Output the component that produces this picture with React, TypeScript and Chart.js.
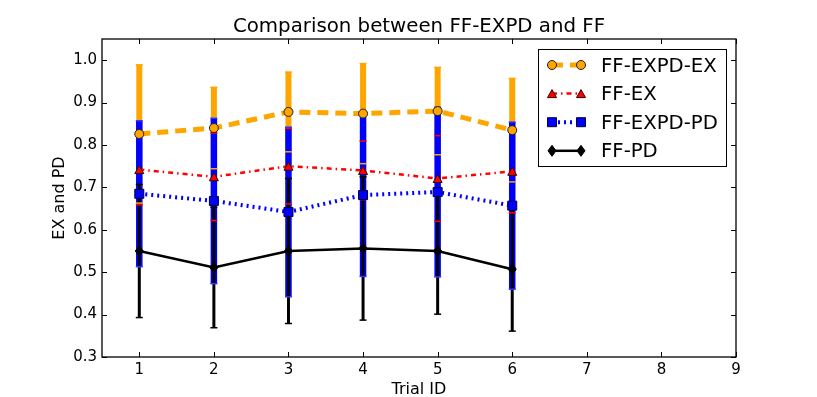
import React, { useEffect, useRef } from "react";
import { Chart, registerables } from "chart.js";

Chart.register(...registerables);

// ---------------- data ----------------
const trialIds = [1, 2, 3, 4, 5, 6];
const xTickValues = [1, 2, 3, 4, 5, 6, 7, 8, 9];
const yTickValues = [0.3, 0.4, 0.5, 0.6, 0.7, 0.8, 0.9, 1.0];
const seriesLabels = ["FF-EXPD-EX", "FF-EX", "FF-EXPD-PD", "FF-PD"];

const expdExMean = [0.826, 0.84, 0.878, 0.874, 0.88, 0.835];
const expdExErr = [0.163, 0.096, 0.094, 0.118, 0.103, 0.122];
const ffExMean = [0.742, 0.725, 0.75, 0.74, 0.721, 0.738];
const ffExErr = [0.083, 0.103, 0.089, 0.069, 0.101, 0.098];
const expdPdMean = [0.685, 0.668, 0.642, 0.682, 0.689, 0.657];
const expdPdErr = [0.172, 0.195, 0.2, 0.192, 0.2, 0.197];
const ffPdMean = [0.55, 0.511, 0.55, 0.556, 0.55, 0.507];
const ffPdErr = [0.157, 0.142, 0.171, 0.169, 0.149, 0.146];

const titleText = "Comparison between FF-EXPD and FF";
const xAxisLabel = "Trial ID";
const yAxisLabel = "EX and PD";

const seriesMeans = [expdExMean, ffExMean, expdPdMean, ffPdMean];
const seriesErrs = [expdExErr, ffExErr, expdPdErr, ffPdErr];

// ---------------- styles ----------------
const FONT = "'DejaVu Sans', 'Bitstream Vera Sans', sans-serif";

type SeriesStyle = {
  color: string;
  lineWidth: number;
  dash: number[];
  barWidth: number;
  capColor: string;
  marker: string;
  mw: number;
  mh: number;
  mfill: string;
  mstroke: string;
};

const styles: SeriesStyle[] = [
  { color: "#FFA500", lineWidth: 5, dash: [11, 7], barWidth: 6, capColor: "#FFA500", marker: "circle", mw: 9, mh: 9, mfill: "#FFA500", mstroke: "#222" },
  { color: "#FF0000", lineWidth: 2.5, dash: [5, 4, 1.5, 4], barWidth: 2, capColor: "#FF0000", marker: "triangle", mw: 9, mh: 8, mfill: "#FF0000", mstroke: "#330000" },
  { color: "#0000FF", lineWidth: 4, dash: [2, 4], barWidth: 6.5, capColor: "#3333FF", marker: "square", mw: 9, mh: 9, mfill: "#0000FF", mstroke: "#000033" },
  { color: "#000000", lineWidth: 2.5, dash: [], barWidth: 3, capColor: "#000000", marker: "diamond", mw: 8, mh: 11, mfill: "#000000", mstroke: "#000000" },
];

function drawMarker(g: CanvasRenderingContext2D, s: SeriesStyle, cx: number, cy: number) {
  const w = s.mw;
  const h = s.mh;
  g.save();
  g.setLineDash([]);
  g.beginPath();
  if (s.marker === "circle") {
    g.ellipse(cx, cy, w / 2, h / 2, 0, 0, Math.PI * 2);
  } else if (s.marker === "triangle") {
    g.moveTo(cx, cy - h / 2);
    g.lineTo(cx + w / 2, cy + h / 2);
    g.lineTo(cx - w / 2, cy + h / 2);
    g.closePath();
  } else if (s.marker === "square") {
    g.rect(cx - w / 2, cy - h / 2, w, h);
  } else {
    g.moveTo(cx, cy - h / 2);
    g.lineTo(cx + w / 2, cy);
    g.lineTo(cx, cy + h / 2);
    g.lineTo(cx - w / 2, cy);
    g.closePath();
  }
  g.fillStyle = s.mfill;
  g.fill();
  g.lineWidth = 1;
  g.strokeStyle = s.mstroke;
  g.stroke();
  g.restore();
}

export default function App() {
  const ref = useRef<HTMLCanvasElement>(null);

  useEffect(() => {
    const canvas = ref.current;
    if (!canvas) return;

    const errorBarPlugin = {
      id: "errorBars",
      beforeDatasetsDraw(chart: any) {
        const { ctx } = chart;
        const xs = chart.scales.x;
        const ys = chart.scales.y;
        ctx.save();
        ctx.setLineDash([]);
        ctx.lineCap = "butt";
        styles.forEach((s, k) => {
          ctx.strokeStyle = s.color;
          ctx.lineWidth = s.barWidth;
          seriesMeans[k].forEach((m, i) => {
            const px = xs.getPixelForValue(trialIds[i]);
            const e = seriesErrs[k][i];
            ctx.beginPath();
            ctx.moveTo(px, ys.getPixelForValue(m - e));
            ctx.lineTo(px, ys.getPixelForValue(m + e));
            ctx.stroke();
          });
        });
        styles.forEach((s, k) => {
          ctx.strokeStyle = s.capColor;
          ctx.lineWidth = 1.5;
          seriesMeans[k].forEach((m, i) => {
            const px = xs.getPixelForValue(trialIds[i]);
            const e = seriesErrs[k][i];
            [m - e, m + e].forEach((v) => {
              const py = ys.getPixelForValue(v);
              ctx.beginPath();
              ctx.moveTo(px - 3.5, py);
              ctx.lineTo(px + 3.5, py);
              ctx.stroke();
            });
          });
        });
        ctx.restore();
      },
      afterDatasetsDraw(chart: any) {
        const { ctx } = chart;
        styles.forEach((s, k) => {
          const meta = chart.getDatasetMeta(k);
          meta.data.forEach((pt: any) => {
            drawMarker(ctx, s, pt.x, pt.y);
          });
        });
      },
      afterDraw(chart: any) {
        const { ctx, chartArea } = chart;
        const xs = chart.scales.x;
        const ys = chart.scales.y;
        const { left, right, top, bottom } = chartArea;
        ctx.save();
        ctx.setLineDash([]);
        ctx.strokeStyle = "#000";
        ctx.lineWidth = 1.3;
        ctx.strokeRect(left, top, right - left, bottom - top);
        ctx.lineWidth = 1;
        const tl = 5;
        xTickValues.forEach((v) => {
          const px = Math.round(xs.getPixelForValue(v)) + 0.5;
          ctx.beginPath();
          ctx.moveTo(px, bottom);
          ctx.lineTo(px, bottom - tl);
          ctx.moveTo(px, top);
          ctx.lineTo(px, top + tl);
          ctx.stroke();
        });
        yTickValues.forEach((v) => {
          const py = Math.round(ys.getPixelForValue(v)) + 0.5;
          ctx.beginPath();
          ctx.moveTo(left, py);
          ctx.lineTo(left + tl, py);
          ctx.moveTo(right, py);
          ctx.lineTo(right - tl, py);
          ctx.stroke();
        });
        // title
        ctx.fillStyle = "#000";
        ctx.font = `19.8px ${FONT}`;
        ctx.textAlign = "center";
        ctx.textBaseline = "alphabetic";
        ctx.fillText(titleText, (left + right) / 2, 32);
        // axis labels
        ctx.font = `16px ${FONT}`;
        ctx.fillText(xAxisLabel, (left + right) / 2, 394);
        ctx.save();
        ctx.translate(64, (top + bottom) / 2);
        ctx.rotate(-Math.PI / 2);
        ctx.fillText(yAxisLabel, 0, 0);
        ctx.restore();
        // legend
        const bx = 538.5, by = 49.5, bw = 188, bh = 117;
        ctx.fillStyle = "#fff";
        ctx.fillRect(bx, by, bw, bh);
        ctx.strokeStyle = "#000";
        ctx.lineWidth = 1;
        ctx.strokeRect(bx, by, bw, bh);
        ctx.font = `19.7px ${FONT}`;
        ctx.textAlign = "left";
        seriesLabels.forEach((lab, k) => {
          const s = styles[k];
          const cy = 65 + k * 28.6;
          const x0 = 552, x1 = 581;
          ctx.save();
          ctx.strokeStyle = s.color;
          ctx.lineWidth = s.lineWidth;
          ctx.setLineDash(s.dash);
          ctx.beginPath();
          ctx.moveTo(x0, cy);
          ctx.lineTo(x1, cy);
          ctx.stroke();
          ctx.restore();
          drawMarker(ctx, s, x0, cy);
          drawMarker(ctx, s, x1, cy);
          ctx.fillStyle = "#000";
          ctx.fillText(lab, 601, cy + 6.5);
        });
        ctx.restore();
      },
    };

    const datasets = seriesLabels.map((lab, k) => {
      const s = styles[k];
      return {
        label: lab,
        data: trialIds.map((t, i) => ({ x: t, y: seriesMeans[k][i] })),
        borderColor: s.color,
        backgroundColor: s.color,
        borderWidth: s.lineWidth,
        borderDash: s.dash,
        fill: false,
        tension: 0,
        pointRadius: 0,
        pointHoverRadius: 0,
        order: 3 - k,
      };
    });

    const chart = new Chart(canvas, {
      type: "line",
      data: { datasets } as any,
      options: {
        animation: false,
        responsive: false,
        devicePixelRatio: 1,
        events: [],
        layout: { padding: { left: 0, right: 81, top: 39, bottom: 0 } },
        plugins: {
          legend: { display: false },
          title: { display: false },
          tooltip: { enabled: false },
        },
        scales: {
          x: {
            type: "linear",
            min: 0.5,
            max: 9,
            afterBuildTicks: (s: any) => {
              s.ticks = xTickValues.map((v) => ({ value: v }));
            },
            afterFit: (s: any) => {
              s.height = 40;
            },
            grid: { display: false, drawTicks: false },
            border: { display: false },
            ticks: {
              color: "#000",
              font: { family: FONT, size: 15 },
              padding: 4,
              maxRotation: 0,
              autoSkip: false,
              callback: (v: any) => String(v),
            },
          },
          y: {
            type: "linear",
            min: 0.3,
            max: 1.05,
            afterBuildTicks: (s: any) => {
              s.ticks = yTickValues.map((v) => ({ value: v }));
            },
            afterFit: (s: any) => {
              s.width = 102;
            },
            grid: { display: false, drawTicks: false },
            border: { display: false },
            ticks: {
              color: "#000",
              font: { family: FONT, size: 15 },
              padding: 5,
              autoSkip: false,
              callback: (v: any) => Number(v).toFixed(1),
            },
          },
        },
      } as any,
      plugins: [errorBarPlugin],
    });

    return () => chart.destroy();
  }, []);

  return (
    <div style={{ position: "absolute", left: 0, top: 0, width: 817, height: 397, background: "#fff" }}>
      <canvas ref={ref} width={817} height={397} style={{ display: "block", width: 817, height: 397 }} />
    </div>
  );
}
